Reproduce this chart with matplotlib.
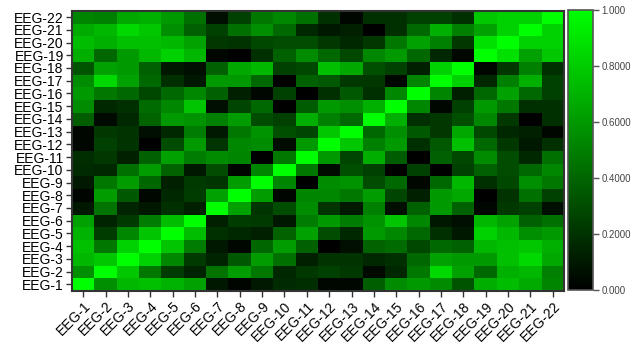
import numpy as np
import matplotlib
matplotlib.use("Agg")
import matplotlib.pyplot as plt
from matplotlib.colors import LinearSegmentedColormap

plt.rcParams['font.family'] = ['Liberation Sans', 'DejaVu Sans']

labels = [f"EEG-{i}" for i in range(1, 23)]

# lower triangle rows (row EEG-i, columns EEG-1 .. EEG-(i-1)); diagonal = 1
row_02 = [0.56]
row_03 = [0.72, 0.78]
row_04 = [0.75, 0.47, 0.82]
row_05 = [0.70, 0.24, 0.53, 0.77]
row_06 = [0.63, 0.14, 0.23, 0.49, 0.74]
row_07 = [0.09, 0.45, 0.14, 0.09, 0.19, 0.13]
row_08 = [0.02, 0.61, 0.35, 0.03, 0.16, 0.24, 0.63]
row_09 = [0.10, 0.47, 0.61, 0.40, 0.13, 0.23, 0.21, 0.61]
row_10 = [0.17, 0.16, 0.44, 0.61, 0.39, 0.09, 0.30, 0.02, 0.52]
row_11 = [0.18, 0.22, 0.13, 0.38, 0.63, 0.49, 0.55, 0.52, 0.00, 0.47]
row_12 = [0.03, 0.25, 0.20, 0.00, 0.30, 0.60, 0.21, 0.53, 0.55, 0.05, 0.60]
row_13 = [0.03, 0.22, 0.20, 0.06, 0.16, 0.49, 0.10, 0.47, 0.58, 0.31, 0.27, 0.78]
row_14 = [0.37, 0.04, 0.16, 0.39, 0.60, 0.58, 0.50, 0.61, 0.30, 0.25, 0.68, 0.50, 0.41]
row_15 = [0.55, 0.16, 0.19, 0.42, 0.53, 0.77, 0.06, 0.27, 0.41, 0.00, 0.36, 0.60, 0.56, 0.69]
row_16 = [0.60, 0.47, 0.41, 0.28, 0.41, 0.53, 0.38, 0.13, 0.03, 0.25, 0.00, 0.19, 0.35, 0.19, 0.53]
row_17 = [0.55, 0.85, 0.63, 0.41, 0.19, 0.09, 0.60, 0.60, 0.41, 0.00, 0.38, 0.35, 0.22, 0.22, 0.03, 0.52]
row_18 = [0.33, 0.63, 0.60, 0.38, 0.09, 0.06, 0.38, 0.66, 0.72, 0.25, 0.28, 0.75, 0.66, 0.31, 0.25, 0.13, 0.82]
row_19 = [0.68, 0.41, 0.60, 0.72, 0.82, 0.72, 0.03, 0.00, 0.19, 0.38, 0.55, 0.41, 0.28, 0.53, 0.60, 0.41, 0.16, 0.03]
row_20 = [0.74, 0.69, 0.75, 0.75, 0.72, 0.64, 0.22, 0.20, 0.28, 0.30, 0.30, 0.22, 0.16, 0.22, 0.47, 0.63, 0.50, 0.22, 0.88]
row_21 = [0.67, 0.72, 0.85, 0.78, 0.56, 0.38, 0.25, 0.44, 0.56, 0.41, 0.16, 0.09, 0.13, 0.00, 0.19, 0.41, 0.69, 0.50, 0.63, 0.82]
row_22 = [0.52, 0.50, 0.66, 0.69, 0.60, 0.44, 0.06, 0.25, 0.47, 0.53, 0.44, 0.19, 0.03, 0.19, 0.19, 0.25, 0.25, 0.19, 0.78, 0.82, 0.82]

lower = [[], row_02, row_03, row_04, row_05, row_06, row_07, row_08, row_09, row_10,
         row_11, row_12, row_13, row_14, row_15, row_16, row_17, row_18, row_19,
         row_20, row_21, row_22]

n = len(labels)
M = np.eye(n)
for i, r in enumerate(lower):
    for j, v in enumerate(r):
        M[i, j] = v
        M[j, i] = v

cmap = LinearSegmentedColormap.from_list("bg", ["#000000", "#00FF00"])

fig = plt.figure(figsize=(6.33, 3.53), dpi=100)
ax = fig.add_axes([72/633, 1-290.7/353, 492/633, 280/353])
im = ax.imshow(M, cmap=cmap, vmin=0, vmax=1, origin='lower', aspect='auto',
               interpolation='nearest')
ax.set_xticks(range(n))
ax.set_yticks(range(n))
ax.set_xticklabels(labels, rotation=45, ha='right', rotation_mode='anchor', fontsize=10)
ax.set_yticklabels(labels, fontsize=10)
ax.tick_params(length=4, width=1, color='#333333', pad=2)
for s in ax.spines.values():
    s.set_color('#333333')
    s.set_linewidth(1.5)

cax = fig.add_axes([568/633, 1-290/353, 25/633, 280/353])
cb = fig.colorbar(im, cax=cax)
cb.set_ticks([0, 0.2, 0.4, 0.6, 0.8, 1.0])
cb.set_ticklabels(["0.000", "0.2000", "0.4000", "0.6000", "0.8000", "1.000"])
cax.tick_params(labelsize=7, length=4, width=1, color='#555555', labelcolor='#444444', pad=2)
cb.outline.set_edgecolor('#555555')
cb.outline.set_linewidth(1.2)

fig.savefig("out.png", dpi=100)
